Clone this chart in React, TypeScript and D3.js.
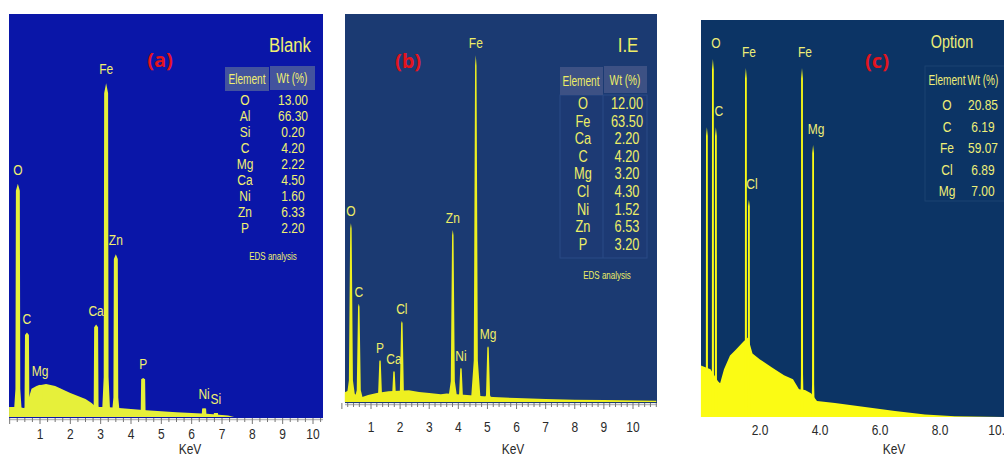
import React from 'react';
import * as d3 from 'd3';

type Peak = { el: string; kev: number; counts: number };
type Pt = [number, number];

// ---- panel (a) Blank ----
const peaksA: Peak[] = [
  { el: 'O', kev: 0.27, counts: 58 },
  { el: 'C', kev: 0.57, counts: 21 },
  { el: 'Mg', kev: 1.0, counts: 8 },
  { el: 'Ca', kev: 2.85, counts: 23 },
  { el: 'Fe', kev: 3.18, counts: 83 },
  { el: 'Zn', kev: 3.5, counts: 40.5 },
  { el: 'P', kev: 4.4, counts: 9.7 },
  { el: 'Ni', kev: 6.41, counts: 2.2 },
  { el: 'Si', kev: 6.8, counts: 1 },
];
const backgroundA: Pt[] = [
  [-0.02, 2.5], [0.3, 2.5], [0.5, 2.2], [0.62, 4.5], [0.72, 7], [0.9, 7.8], [1.2, 8.2],
  [1.5, 7.7], [2.0, 6.0], [2.5, 4.5], [2.7, 3.5], [2.85, 2.5], [3.2, 2.5], [3.7, 2.2],
  [4.5, 1.7], [5.5, 1.2], [6.5, 0.8], [7.2, 0.4], [7.4, 0], [10.35, 0],
];
const tableElA = ['O', 'Al', 'Si', 'C', 'Mg', 'Ca', 'Ni', 'Zn', 'P'];
const tableWtA = ['13.00', '66.30', '0.20', '4.20', '2.22', '4.50', '1.60', '6.33', '2.20'];
const tickKevA = [1, 2, 3, 4, 5, 6, 7, 8, 9, 10];
const tickTextA = ['1', '2', '3', '4', '5', '6', '7', '8', '9', '10'];

// ---- panel (b) I.E ----
const peaksB: Peak[] = [
  { el: 'O', kev: 0.31, counts: 46.1 },
  { el: 'C', kev: 0.58, counts: 25.3 },
  { el: 'P', kev: 1.31, counts: 10.8 },
  { el: 'Ca', kev: 1.79, counts: 8.0 },
  { el: 'Cl', kev: 2.06, counts: 20.9 },
  { el: 'Zn', kev: 3.81, counts: 44.3 },
  { el: 'Ni', kev: 4.09, counts: 8.8 },
  { el: 'Fe', kev: 4.6, counts: 89.4 },
  { el: 'Mg', kev: 5.02, counts: 14.4 },
];
const backgroundB: Pt[] = [
  [0.1, 2.5], [0.25, 3], [0.45, 2], [0.7, 1.3], [0.9, 1.8], [1.2, 2.3], [1.6, 2.8],
  [2.3, 3.0], [2.65, 2.6], [3.0, 2.3], [3.4, 2.0], [3.6, 2.2], [4.3, 1.8], [5.2, 1.3],
  [6, 1.0], [7, 0.8], [8, 0.6], [9, 0.5], [10.8, 0.3],
];
const tableElB = ['O', 'Fe', 'Ca', 'C', 'Mg', 'Cl', 'Ni', 'Zn', 'P'];
const tableWtB = ['12.00', '63.50', '2.20', '4.20', '3.20', '4.30', '1.52', '6.53', '3.20'];
const tickKevB = [1, 2, 3, 4, 5, 6, 7, 8, 9, 10];
const tickTextB = ['1', '2', '3', '4', '5', '6', '7', '8', '9', '10'];

// ---- panel (c) Option ----
const peaksC: Peak[] = [
  { el: '', kev: 0.23, counts: 73 },
  { el: 'O', kev: 0.43, counts: 90.2 },
  { el: 'C', kev: 0.53, counts: 73 },
  { el: 'Fe', kev: 1.53, counts: 87.9 },
  { el: 'Cl', kev: 1.63, counts: 54.7 },
  { el: 'Fe', kev: 3.4, counts: 87.9 },
  { el: 'Mg', kev: 3.77, counts: 68.5 },
];
const backgroundC: Pt[] = [
  [0.03, 13], [0.35, 12], [0.6, 9], [0.67, 8.5], [0.8, 12], [1.0, 15.5], [1.2, 17],
  [1.45, 19], [1.6, 20], [1.75, 16], [2.0, 14.5], [2.4, 12.5], [2.8, 10.5], [3.1, 9.5],
  [3.3, 7], [3.5, 6.8], [3.7, 6], [3.9, 4], [4.5, 3.5], [5.5, 2.5], [6.5, 1.5],
  [7.5, 0.6], [8.5, 0.2], [10.2, 0],
];
const tableElC = ['O', 'C', 'Fe', 'Cl', 'Mg'];
const tableWtC = ['20.85', '6.19', '59.07', '6.89', '7.00'];
const tickKevC = [2, 4, 6, 8, 10];
const tickTextC = ['2.0', '4.0', '6.0', '8.0', '10.0'];

const SANS = "'Liberation Sans', Arial, sans-serif";
const BOLD = "'Open Sans', 'DejaVu Sans', sans-serif";

// condensed text (Arial Narrow look) made by squeezing Liberation Sans
function NText({ x, y, size, fill, sx = 0.8, anchor = 'middle', children }: {
  x: number; y: number; size: number; fill: string; sx?: number; anchor?: string; children: React.ReactNode;
}) {
  return (
    <text transform={`translate(${x},${y}) scale(${sx},1)`} textAnchor={anchor}
      fontFamily={SANS} fontSize={size} fill={fill}>{children}</text>
  );
}

interface PanelCfg {
  peaks: Peak[];
  background: Pt[];
  xDomain: [number, number];
  xRange: [number, number];
  yRange: [number, number];
  box: { x0: number; x1: number; y0: number; y1: number };
  bg: string;
  yellow: string;
  text: string;
  shape: { base: number; mid: number; top: number };
  labelDy: number;
  labelDx: number;
  ticks: number[];
  tickText: string[];
  tickY: number;
  minorStep: number;
  minorMax: number;
  showTicks: boolean;
  keVX: number;
  keVY: number;
}

function Spectrum({ c }: { c: PanelCfg }) {
  const x = d3.scaleLinear().domain(c.xDomain).range(c.xRange);
  const y = d3.scaleLinear().domain([0, 100]).range(c.yRange);
  const area = d3.area<Pt>().x(d => x(d[0])).y0(y(0)).y1(d => y(d[1]));
  const s = c.shape;
  const peakPath = (p: Peak) =>
    area([
      [p.kev - s.base, 0],
      [p.kev - s.mid, p.counts * 0.12],
      [p.kev - s.top, p.counts * 0.97],
      [p.kev, p.counts],
      [p.kev + s.top, p.counts * 0.97],
      [p.kev + s.mid, p.counts * 0.12],
      [p.kev + s.base, 0],
    ]) || '';
  const minor = d3.range(0, c.minorMax + 1e-9, c.minorStep);
  const axisY = c.box.y1;
  return (
    <g>
      <rect x={c.box.x0} y={c.box.y0} width={c.box.x1 - c.box.x0} height={c.box.y1 - c.box.y0} fill={c.bg} />
      <path d={area(c.background) || ''} fill={c.yellow} />
      {c.peaks.map((p, i) => (
        <path key={i} d={peakPath(p)} fill={c.yellow} />
      ))}
      {c.peaks.filter(p => p.el).map((p, i) => (
        <NText key={'l' + i} x={x(p.kev) + c.labelDx} y={y(p.counts) - c.labelDy}
          size={15} fill={c.text}>{p.el}</NText>
      ))}
      {c.showTicks && (
        <g>
          <line x1={c.box.x0} x2={c.box.x1} y1={axisY + 1.5} y2={axisY + 1.5} stroke="#b8b8b8" strokeWidth={1.5} />
          {minor.map((k, i) => {
            const major = Math.abs(k - Math.round(k)) < 1e-6;
            return <line key={'t' + i} x1={x(k)} x2={x(k)} y1={axisY} y2={axisY + (major ? 6 : 4)}
              stroke="#777" strokeWidth={1} />;
          })}
        </g>
      )}
      {c.ticks.map((k, i) => (
        <NText key={'tk' + i} x={x(k)} y={c.tickY} size={15} fill="#2a2a2a">{c.tickText[i]}</NText>
      ))}
      <NText x={c.keVX} y={c.keVY} size={15} fill="#2a2a2a">KeV</NText>
    </g>
  );
}

const cfgA: PanelCfg = {
  peaks: peaksA, background: backgroundA,
  xDomain: [1, 10], xRange: [40, 313], yRange: [417, 15],
  box: { x0: 9, x1: 323, y0: 14, y1: 418 },
  bg: '#0a16a8', yellow: '#e6f03a', text: '#f0f070',
  shape: { base: 0.14, mid: 0.08, top: 0.065 },
  labelDy: 9, labelDx: 0,
  ticks: tickKevA, tickText: tickTextA, tickY: 439,
  minorStep: 0.25, minorMax: 10.25, showTicks: true, keVX: 190, keVY: 454,
};
const cfgB: PanelCfg = {
  peaks: peaksB, background: backgroundB,
  xDomain: [1, 10], xRange: [371, 633], yRange: [402, 14],
  box: { x0: 345, x1: 657, y0: 14, y1: 403 },
  bg: '#1b3a72', yellow: '#eef020', text: '#eeee66',
  shape: { base: 0.17, mid: 0.07, top: 0.025 },
  labelDy: 7, labelDx: 0,
  ticks: tickKevB, tickText: tickTextB, tickY: 432,
  minorStep: 0.2, minorMax: 10.8, showTicks: true, keVX: 513, keVY: 454,
};
const cfgC: PanelCfg = {
  peaks: peaksC, background: backgroundC,
  xDomain: [2, 10], xRange: [760, 1000], yRange: [417, 20],
  box: { x0: 701, x1: 1004, y0: 20, y1: 417 },
  bg: '#0c3465', yellow: '#fbfb14', text: '#eeee77',
  shape: { base: 0.06, mid: 0.035, top: 0.03 },
  labelDy: 11, labelDx: 3,
  ticks: tickKevC, tickText: tickTextC, tickY: 435,
  minorStep: 1, minorMax: 10, showTicks: false, keVX: 894, keVY: 454,
};

function Table({ els, wts, elX, wtX, y0, step, size, color }: {
  els: string[]; wts: string[]; elX: number; wtX: number; y0: number; step: number; size: number; color: string;
}) {
  return (
    <g>
      {els.map((e, i) => (
        <g key={i}>
          <NText x={elX} y={y0 + i * step} size={size} fill={color}>{e}</NText>
          <NText x={wtX} y={y0 + i * step} size={size} fill={color}>{wts[i]}</NText>
        </g>
      ))}
    </g>
  );
}

export default function App() {
  return (
    <svg width={1004} height={456} style={{ position: 'absolute', left: 0, top: 0, background: '#fff' }}>
      <Spectrum c={cfgA} />
      <Spectrum c={cfgB} />
      <Spectrum c={cfgC} />

      {/* panel (a) annotations */}
      <text x={160} y={67} textAnchor="middle" fontFamily={BOLD} fontWeight="bold" fontSize={20} fill="#e3141e">(a)</text>
      <NText x={290} y={52} size={21} fill="#f0f070">Blank</NText>
      <rect x={225} y={67} width={44} height={24} fill="#43539e" />
      <rect x={270} y={66} width={45} height={24} fill="#43539e" />
      <NText x={247} y={84} size={14} sx={0.72} fill="#f0f070">Element</NText>
      <NText x={292} y={83} size={14} sx={0.72} fill="#f0f070">Wt (%)</NText>
      <Table els={tableElA} wts={tableWtA} elX={245} wtX={293} y0={105} step={16} size={15} color="#f0f070" />
      <NText x={273} y={260} size={10} fill="#f0f070">EDS analysis</NText>

      {/* panel (b) annotations */}
      <text x={408} y={68} textAnchor="middle" fontFamily={BOLD} fontWeight="bold" fontSize={20} fill="#e3141e">(b)</text>
      <NText x={628} y={52} size={21} fill="#eeee66">I.E</NText>
      <rect x={560} y={95} width={87} height={163} fill="#1d3a74" stroke="#2b4a86" strokeWidth={1} />
      <line x1={603} x2={603} y1={95} y2={258} stroke="#2b4a86" strokeWidth={1} />
      <rect x={560} y={67} width={43} height={28} fill="#3d5184" />
      <rect x={604} y={66} width={43} height={27} fill="#3d5184" />
      <NText x={581} y={86} size={14} sx={0.72} fill="#eeee66">Element</NText>
      <NText x={625} y={85} size={14} sx={0.72} fill="#eeee66">Wt (%)</NText>
      <Table els={tableElB} wts={tableWtB} elX={583} wtX={627} y0={109} step={17.6} size={16} color="#eeee66" />
      <NText x={607} y={279} size={10} fill="#eeee66">EDS analysis</NText>

      {/* panel (c) annotations */}
      <text x={877} y={68} textAnchor="middle" fontFamily={BOLD} fontWeight="bold" fontSize={20} fill="#e3141e">(c)</text>
      <NText x={952} y={48} size={18} fill="#eeee77">Option</NText>
      <rect x={925} y={66} width={80} height={135} fill="none" stroke="#1b4272" strokeWidth={1} />
      <NText x={947} y={85} size={14} sx={0.72} fill="#eeee77">Element</NText>
      <NText x={983} y={85} size={14} sx={0.72} fill="#eeee77">Wt (%)</NText>
      <Table els={tableElC} wts={tableWtC} elX={947} wtX={983} y0={110} step={21.6} size={15} color="#eeee77" />
    </svg>
  );
}
